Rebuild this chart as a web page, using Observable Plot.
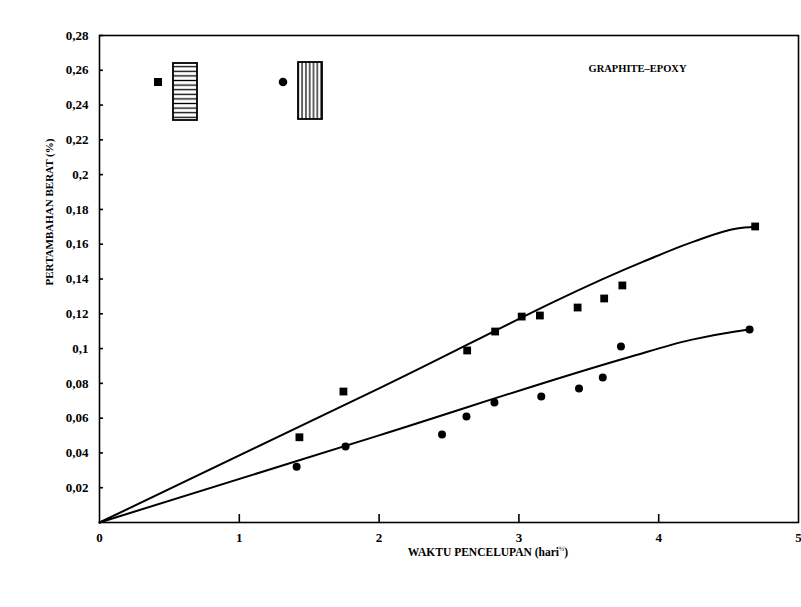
<!DOCTYPE html>
<html>
<head>
<meta charset="utf-8">
<script src="https://cdn.jsdelivr.net/npm/d3@7"></script>
<script src="https://cdn.jsdelivr.net/npm/@observablehq/plot@0.6"></script>
<style>
  html, body { margin: 0; padding: 0; background: #fff; }
  #wrap { position: relative; width: 801px; height: 607px; overflow: hidden; font-family: "Liberation Serif", "DejaVu Serif", serif; }
  #legend { position: absolute; left: 0; top: 0; }
  .t { font-family: "Liberation Serif", serif; font-weight: bold; fill: #000; }
</style>
</head>
<body>
<div id="wrap"></div>
<script>
// ---- data ----
const squareX = [1.43, 1.745, 2.63, 2.83, 3.02, 3.15, 3.42, 3.61, 3.74, 4.69];
const squareY = [0.049, 0.0753, 0.0989, 0.1098, 0.1184, 0.119, 0.1236, 0.1288, 0.1363, 0.1702];
const circleX = [1.41, 1.76, 2.45, 2.625, 2.825, 3.16, 3.43, 3.60, 3.73, 4.65];
const circleY = [0.032, 0.0437, 0.0506, 0.061, 0.069, 0.0724, 0.077, 0.0834, 0.1012, 0.111];
// fitted curves
const upperFitX = [0, 2, 3.89, 4.25, 4.56, 4.69];
const upperFitY = [0, 0.0771, 0.150, 0.1615, 0.169, 0.170];
const lowerFitX = [0, 2, 3.78, 4.23, 4.56, 4.65];
const lowerFitY = [0, 0.0501, 0.0949, 0.105, 0.110, 0.111];
// ticks
const xTicks = [0, 1, 2, 3, 4, 5];
const yTicks = [0.02, 0.04, 0.06, 0.08, 0.10, 0.12, 0.14, 0.16, 0.18, 0.20, 0.22, 0.24, 0.26, 0.28];
const yLabel = "PERTAMBAHAN BERAT (%)";
const materialLabel = "GRAPHITE–EPOXY";

const squares = squareX.map((x, i) => ({x, y: squareY[i]}));
const circles = circleX.map((x, i) => ({x, y: circleY[i]}));
const upper = upperFitX.map((x, i) => ({x, y: upperFitY[i]}));
const lower = lowerFitX.map((x, i) => ({x, y: lowerFitY[i]}));

const W = 801, H = 607;
const mL = 99, mR = 3, mT = 35, mB = 85;
const plotW = W - mL - mR, plotH = H - mT - mB;
const fmtY = d => String(+d.toFixed(2)).replace(".", ",");
const font = "Liberation Serif";

const chart = Plot.plot({
  width: W, height: H,
  marginLeft: mL, marginRight: mR, marginTop: mT, marginBottom: mB,
  style: {fontFamily: font, background: "#fff", color: "#000"},
  x: {domain: [0, 5], axis: null},
  y: {domain: [0, 0.28], axis: null},
  marks: [
    Plot.frame({stroke: "#000", strokeWidth: 1.6}),
    // inward tick marks
    Plot.tickY(yTicks, {y: d => d, stroke: "#000", strokeWidth: 1.6, insetRight: plotW - 4}),
    Plot.tickX(xTicks.filter(d => d > 0 && d < 5), {x: d => d, stroke: "#000", strokeWidth: 1.6, insetTop: plotH - 8}),
    // tick labels
    Plot.axisY({ticks: yTicks, tickSize: 0, tickPadding: 11, tickFormat: fmtY,
      fontSize: 13, fontWeight: "bold", fontFamily: font, label: null}),
    Plot.axisX({ticks: xTicks, tickSize: 0, tickPadding: 10, tickFormat: d => String(d),
      fontSize: 13, fontWeight: "bold", fontFamily: font, label: null}),
    // fitted lines
    Plot.line(upper, {x: "x", y: "y", stroke: "#000", strokeWidth: 2, curve: "monotone-x"}),
    Plot.line(lower, {x: "x", y: "y", stroke: "#000", strokeWidth: 2, curve: "monotone-x"}),
    // data points
    Plot.dot(squares, {x: "x", y: "y", symbol: "square", r: 4.4, fill: "#000", stroke: "none"}),
    Plot.dot(circles, {x: "x", y: "y", symbol: "circle", r: 4, fill: "#000", stroke: "none"}),
    // material label
    Plot.text([materialLabel], {frameAnchor: "top-right", dy: 29, text: d => d,
      fontSize: 10.5, fontWeight: "bold", fontFamily: font, textAnchor: "start", dx: -210})
  ]
});
document.getElementById("wrap").appendChild(chart);

// axis titles and legend overlay
const ov = d3.select("#wrap").append("svg")
  .attr("id", "legend").attr("width", W).attr("height", H);

// y axis title
ov.append("text").attr("class", "t")
  .attr("transform", `translate(53,${212}) rotate(-90)`)
  .attr("text-anchor", "middle").attr("font-size", 11)
  .text(yLabel);

// x axis title
const xt = ov.append("text").attr("class", "t")
  .attr("x", 488).attr("y", 556).attr("text-anchor", "middle").attr("font-size", 11.5);
xt.append("tspan").text("WAKTU PENCELUPAN (hari");
xt.append("tspan").attr("font-size", 7).attr("dy", -5).text("½");
xt.append("tspan").attr("dy", 5).text(")");

// legend patterns
const defs = ov.append("defs");
const ph = defs.append("pattern").attr("id", "hpat").attr("patternUnits", "userSpaceOnUse")
  .attr("width", 6).attr("height", 4.6);
ph.append("line").attr("x1", 0).attr("x2", 6).attr("y1", 2.3).attr("y2", 2.3)
  .attr("stroke", "#000").attr("stroke-width", 1.3);
const pv = defs.append("pattern").attr("id", "vpat").attr("patternUnits", "userSpaceOnUse")
  .attr("width", 3.8).attr("height", 6);
pv.append("line").attr("x1", 1.9).attr("x2", 1.9).attr("y1", 0).attr("y2", 6)
  .attr("stroke", "#000").attr("stroke-width", 1.2);

const lg = ov.append("g");
lg.append("rect").attr("x", 154).attr("y", 78).attr("width", 8).attr("height", 8).attr("fill", "#000");
lg.append("rect").attr("x", 173).attr("y", 63).attr("width", 24).attr("height", 57)
  .attr("fill", "url(#hpat)").attr("stroke", "#000").attr("stroke-width", 1.8);
lg.append("circle").attr("cx", 283).attr("cy", 82).attr("r", 4.3).attr("fill", "#000");
lg.append("rect").attr("x", 298).attr("y", 62).attr("width", 24).attr("height", 57)
  .attr("fill", "url(#vpat)").attr("stroke", "#000").attr("stroke-width", 1.8);
</script>
</body>
</html>
